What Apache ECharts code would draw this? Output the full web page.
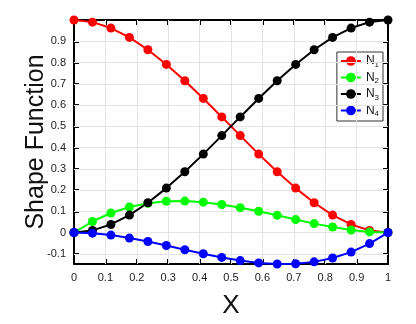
<!DOCTYPE html>
<html><head><meta charset="utf-8">
<script src="https://cdn.jsdelivr.net/npm/echarts@6/dist/echarts.min.js"></script>
<style>html,body{margin:0;padding:0;background:#fff}#c{width:416px;height:324px}</style>
</head><body><div id="c"></div>
<script>
var xs = [0,0.0588,0.1176,0.1765,0.2353,0.2941,0.3529,0.4118,0.4706,0.5294,0.5882,0.6471,0.7059,0.7647,0.8235,0.8824,0.9412,1];
var n1 = [1,0.990,0.962,0.918,0.860,0.791,0.714,0.631,0.544,0.456,0.369,0.286,0.209,0.140,0.082,0.038,0.010,0];
var n2 = [0,0.052,0.092,0.120,0.138,0.147,0.148,0.143,0.132,0.117,0.100,0.081,0.061,0.042,0.026,0.012,0.003,0];
var n3 = [0,0.010,0.038,0.082,0.140,0.209,0.286,0.369,0.456,0.544,0.631,0.714,0.791,0.860,0.918,0.962,0.990,1];
var n4 = [0,-0.003,-0.012,-0.026,-0.042,-0.061,-0.081,-0.100,-0.117,-0.132,-0.143,-0.148,-0.147,-0.138,-0.120,-0.092,-0.052,0];
var names = ['N1','N2','N3','N4'];
var colors = ['#ff0000','#00ff00','#000000','#0000ff'];
var xTicks = [0,0.1,0.2,0.3,0.4,0.5,0.6,0.7,0.8,0.9,1];
var yTicks = [-0.1,0,0.1,0.2,0.3,0.4,0.5,0.6,0.7,0.8,0.9,1];
var yLabels = [-0.1,0,0.1,0.2,0.3,0.4,0.5,0.6,0.7,0.8,0.9];

function pairs(ys){ return xs.map(function(x,i){return [x, ys[i]];}); }
var all = [n1,n2,n3,n4];
var chart = echarts.init(document.getElementById('c'));
var font = 'Liberation Sans, Arial, sans-serif';
function fmt(v){ return (Math.round(v*10)/10).toString(); }
var baseX = {type:'value', min:0, max:1, axisLine:{show:true,onZero:false,lineStyle:{color:'#000',width:2}},
  axisTick:{show:true,inside:true,length:5,customValues:xTicks,lineStyle:{color:'#000',width:2}},
  splitLine:{show:false}};
var baseY = {type:'value', min:-0.148, max:1, axisLine:{show:true,onZero:false,lineStyle:{color:'#000',width:2}},
  axisTick:{show:true,inside:true,length:5,customValues:yTicks,lineStyle:{color:'#000',width:2}},
  splitLine:{show:false}};
var series = all.map(function(d,i){
  return {name:names[i], type:'line', data:pairs(d), symbol:'circle', symbolSize:9,
    color:colors[i], lineStyle:{width:2, color:colors[i]}, itemStyle:{color:colors[i]}, z:10+i, animation:false};
});
series.push({type:'line', data:[], silent:true, markLine:{silent:true, symbol:'none', label:{show:false}, animation:false,
  lineStyle:{color:'#e3e3e3', width:1, type:'solid'},
  data: xTicks.slice(1,-1).map(function(v){return {xAxis:v};}).concat(yTicks.slice(0,-1).map(function(v){return {yAxis:v};}))}, z:1});
chart.setOption({
  animation:false,
  backgroundColor:'#fff',
  grid:{left:74, right:28, top:20, bottom:54, show:false},
  legend:{
    right:33, top:52, orient:'vertical', backgroundColor:'#fff', borderColor:'#333', borderWidth:1,
    padding:[3,4,3,3], itemGap:3, itemWidth:20, itemHeight:12,
    data:names,
    formatter:function(n){ return '{n|N}{s|'+n.slice(1)+'}'; },
    textStyle:{rich:{n:{fontSize:12,fontFamily:font,color:'#111'},s:{fontSize:8,fontFamily:font,color:'#111',padding:[7,0,0,0]}}}
  },
  xAxis:[
    Object.assign({}, baseX, {position:'bottom', name:'X', nameLocation:'middle', nameGap:29, nameMoveOverlap:false,
      nameTextStyle:{fontSize:26, fontFamily:font, color:'#111'},
      axisLabel:{show:true, customValues:xTicks, margin:8, fontSize:11, fontFamily:font, color:'#222', formatter:fmt}}),
    Object.assign({}, baseX, {position:'top', axisLabel:{show:false}})
  ],
  yAxis:[
    Object.assign({}, baseY, {position:'left', name:'Shape Function', nameLocation:'middle', nameGap:25, nameMoveOverlap:false,
      nameTextStyle:{fontSize:25, fontFamily:font, color:'#111'},
      axisLabel:{show:true, customValues:yLabels, margin:8, fontSize:11, fontFamily:font, color:'#222', formatter:fmt}}),
    Object.assign({}, baseY, {position:'right', axisLabel:{show:false}})
  ],
  series:series
});
</script></body></html>
